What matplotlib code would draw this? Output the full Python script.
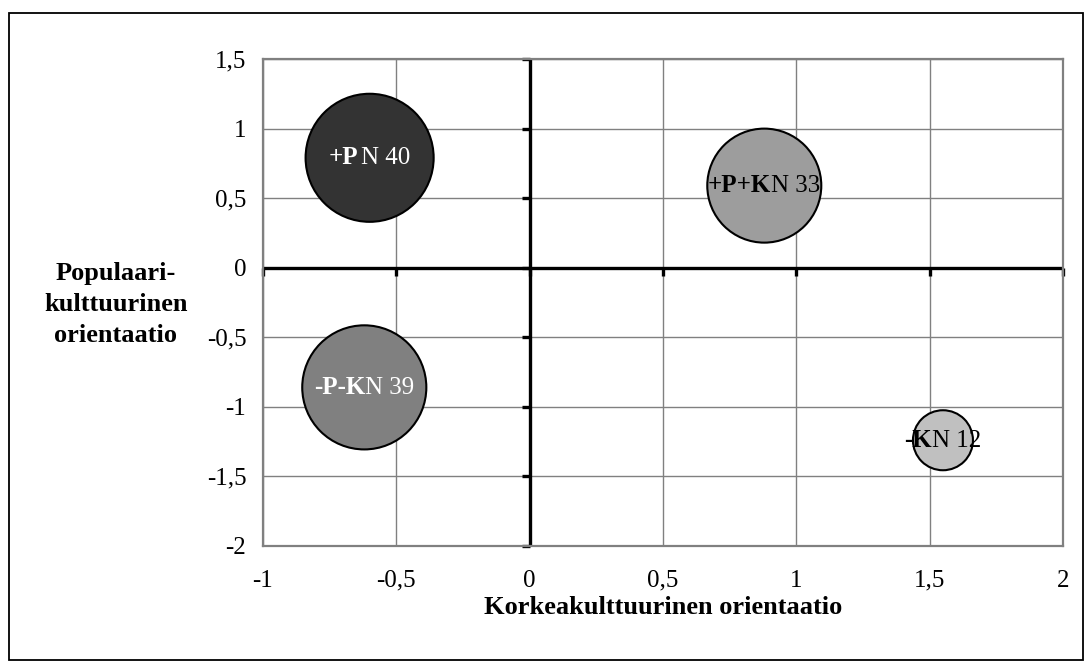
import numpy as np
import matplotlib
matplotlib.use('Agg')
import matplotlib.pyplot as plt
from matplotlib.offsetbox import TextArea, HPacker, AnnotationBbox
from matplotlib.patches import Rectangle

plt.rcParams['font.family'] = ['Liberation Serif', 'DejaVu Serif']

# bubble data
group_bold = ['+P', '+P+K', '-P-K', '-K']
group_rest = [' N 40', 'N 33', 'N 39', 'N 12']
x_val = [-0.60, 0.88, -0.62, 1.55]
y_val = [0.79, 0.59, -0.86, -1.24]
bubble_area = [4100, 3250, 3850, 900]
bubble_color = ['#333333', '#9d9d9d', '#808080', '#c0c0c0']
text_color = ['white', 'black', 'white', 'black']

x_ticks = [-1, -0.5, 0, 0.5, 1, 1.5, 2]
y_ticks = [-2, -1.5, -1, -0.5, 0, 0.5, 1, 1.5]
x_title = 'Korkeakulttuurinen orientaatio'
y_title = 'Populaari-\nkulttuurinen\norientaatio'

def fmt(v):
    s = ('%g' % v).replace('.', ',')
    return s

###############################################################################
fig = plt.figure(figsize=(10.92, 6.66), dpi=100)
ax = fig.add_axes([0.2408, 0.1802, 0.9734 - 0.2408, 0.9114 - 0.1802])

fontsize = 18
ax.set_xlim(-1, 2)
ax.set_ylim(-2, 1.5)
ax.set_xticks(x_ticks)
ax.set_yticks(y_ticks)
ax.set_xticklabels([fmt(v) for v in x_ticks], fontsize=fontsize)
ax.set_yticklabels([fmt(v) for v in y_ticks], fontsize=fontsize)
ax.tick_params(axis='x', length=0, pad=17)
ax.tick_params(axis='y', length=0, pad=12)
ax.grid(True, color='#808080', linewidth=1.0)
ax.set_axisbelow(True)
for sp in ax.spines.values():
    sp.set_color('#808080')
    sp.set_linewidth(1.6)

# bold axes through the origin
ax.axhline(0, color='black', linewidth=2.4, zorder=2)
ax.axvline(0, color='black', linewidth=2.4, zorder=2)
ax.plot([0] * len(y_ticks), y_ticks, linestyle='none', marker=0,
        markersize=6, markeredgewidth=2.4, color='black', zorder=2, clip_on=False)
ax.plot(x_ticks, [0] * len(x_ticks), linestyle='none', marker=3,
        markersize=6, markeredgewidth=2.4, color='black', zorder=2, clip_on=False)

# bubbles
s_arr = [a * 2.0736 for a in bubble_area]
ax.scatter(x_val, y_val, s=s_arr, c=bubble_color, edgecolors='black',
           linewidths=1.5, zorder=3)

for i in range(len(x_val)):
    rest = group_rest[i]
    gap = 2 if rest.startswith(' ') else 0
    t1 = TextArea(group_bold[i], textprops=dict(fontsize=fontsize, fontweight='bold',
                                                color=text_color[i]))
    t2 = TextArea(rest.strip(), textprops=dict(fontsize=fontsize, color=text_color[i]))
    box = HPacker(children=[t1, t2], sep=gap, pad=0, align='baseline')
    ab = AnnotationBbox(box, (x_val[i], y_val[i]), frameon=False, zorder=4)
    ax.add_artist(ab)

ax.set_xlabel(x_title, fontsize=19, fontweight='bold', labelpad=3)
fig.text(0.106, 0.543, y_title, fontsize=19, fontweight='bold',
         ha='center', va='center', linespacing=1.45)

# outer chart border
fig.patches.append(Rectangle((9 / 1092, 6 / 666), 1074 / 1092, 647 / 666,
                             transform=fig.transFigure, fill=False,
                             edgecolor='black', linewidth=1.3))

plt.savefig('out.png', dpi=100)
